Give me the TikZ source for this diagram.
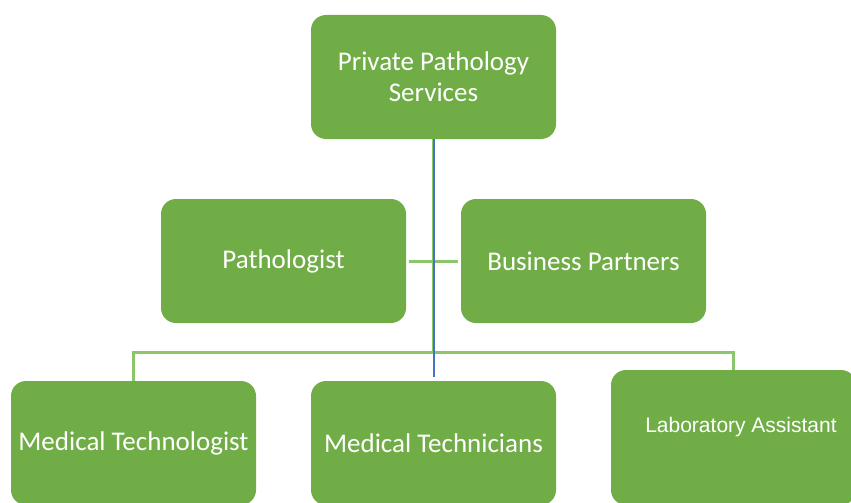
\documentclass[tikz,border=0pt]{standalone}
\usepackage{fontspec}
\setmainfont{Carlito}
\newfontfamily\arialfont{Liberation Sans}
\definecolor{boxgreen}{HTML}{70AD47}
\definecolor{linegreen}{HTML}{8CC66A}
\definecolor{lineblue}{HTML}{4472C4}
\begin{document}
\begin{tikzpicture}[x=1pt,y=-1pt,
  orgbox/.style={fill=boxgreen, rounded corners=15pt, minimum width=245pt,
    minimum height=124pt, inner sep=0pt, text=white, font=\fontsize{27}{31}\selectfont, align=center},
  link/.style={draw=linegreen, line width=3pt},
  spine/.style={draw=lineblue, line width=2pt}]
\useasboundingbox (0,0) rectangle (851,503);
\clip (0,0) rectangle (851,503);

% boxes
\node[orgbox] (pps) at (433.5,77) {Private Pathology\\Services};
\node[orgbox] (path) at (283.5,261) {Pathologist};
\node[orgbox] (bp) at (583.5,261) {Business Partners};
\node[orgbox] (mtg) at (133.5,443) {Medical Technologist};
\node[orgbox] (mtc) at (433.5,443) {Medical Technicians};
\node[orgbox, minimum height=135pt] (lab) at (733.5,437.5) {};
\node[text=white, font=\arialfont\fontsize{21}{25}\selectfont] (labtxt) at (741,427) {Laboratory Assistant};

% connectors
\coordinate (bus) at (433.5,352);
\coordinate (spineend) at (433.5,377);
\coordinate (pl) at ([xshift=3pt]path.east);
\coordinate (br) at ([xshift=-3pt]bp.west);
\draw[link] (pl) -- (br);
\draw[link] (mtg.north) |- (bus) -| (lab.north);
\draw[link] (pps.south) -- (bus);
\draw[spine] ([xshift=0.8pt]pps.south) -- ([xshift=0.8pt]spineend);
\end{tikzpicture}
\end{document}
